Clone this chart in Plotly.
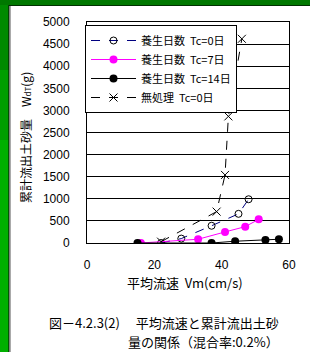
import plotly.graph_objects as go

# ---- data ----
tc0_x = [22, 28, 37, 45, 48]
tc0_y = [0, 100, 390, 660, 990]
tc7_x = [16, 33, 41, 47, 51]
tc7_y = [0, 85, 250, 370, 535]
tc14_x = [15, 37, 44, 53, 57]
tc14_y = [0, 0, 40, 70, 85]
raw_x = [22, 38.5, 41, 42, 46]
raw_y = [30, 710, 1540, 2865, 4620]

names = ["養生日数  Tc=0日", "養生日数  Tc=7日", "養生日数  Tc=14日", "無処理  Tc=0日"]
x_ticks = [0, 20, 40, 60]

W, H = 310, 352
L, R, T, B = 87, 21, 22, 109
PW, PH = W - L - R, H - T - B

def px(x):
    return (x - L) / PW

def py(y):
    return (H - B - y) / PH

FONT = "Liberation Sans, Noto Sans CJK JP"
JP = "Noto Sans CJK JP, Liberation Sans"

fig = go.Figure()
fig.add_trace(go.Scatter(x=tc0_x, y=tc0_y, name=names[0], mode="lines+markers",
                         line=dict(color="#000080", width=1, dash="dash"),
                         marker=dict(symbol="circle-open", size=7, color="black", line=dict(width=1, color="black"))))
fig.add_trace(go.Scatter(x=tc7_x, y=tc7_y, name=names[1], mode="lines+markers",
                         line=dict(color="#ff00ff", width=1),
                         marker=dict(symbol="circle", size=8, color="#ff00ff")))
fig.add_trace(go.Scatter(x=tc14_x, y=tc14_y, name=names[2], mode="lines+markers",
                         line=dict(color="black", width=1),
                         marker=dict(symbol="circle", size=8, color="black")))
fig.add_trace(go.Scatter(x=raw_x, y=raw_y, name=names[3], mode="lines+markers",
                         line=dict(color="black", width=1, dash="dash"),
                         marker=dict(symbol="x-thin-open", size=8, color="black", line=dict(width=1, color="black"))))

shapes = [
    # green frame strips
    dict(type="rect", xref="paper", yref="paper", x0=px(0), x1=px(W), y0=py(0), y1=py(5),
         fillcolor="#007800", line=dict(width=0), layer="below"),
    dict(type="rect", xref="paper", yref="paper", x0=px(0), x1=px(9), y0=py(5), y1=py(70),
         fillcolor="#008a00", line=dict(width=0), layer="below"),
    dict(type="rect", xref="paper", yref="paper", x0=px(0), x1=px(9), y0=py(70), y1=py(140),
         fillcolor="#009e00", line=dict(width=0), layer="below"),
    dict(type="rect", xref="paper", yref="paper", x0=px(0), x1=px(9), y0=py(140), y1=py(H),
         fillcolor="#00b000", line=dict(width=0), layer="below"),
    dict(type="line", xref="paper", yref="paper", x0=px(9), x1=px(9), y0=py(5), y1=py(H),
         line=dict(color="black", width=1), layer="below"),
    dict(type="line", xref="paper", yref="paper", x0=px(10.5), x1=px(10.5), y0=py(5), y1=py(H),
         line=dict(color="#aaaaaa", width=1), layer="below"),
    dict(type="line", xref="paper", yref="paper", x0=px(9), x1=px(W), y0=py(5.5), y1=py(5.5),
         line=dict(color="#003000", width=1), layer="below"),
]

annotations = [
    dict(text="累計流出土砂量　W<span style='font-size:8px'>dT</span>(g)", x=px(25), y=py(138),
         xref="paper", yref="paper",
         textangle=-90, showarrow=False, font=dict(family=JP, size=12, color="black"),
         xanchor="center", yanchor="middle"),
    dict(text="平均流速  Vm(cm/s)", x=px(185), y=py(282), xref="paper", yref="paper",
         showarrow=False, font=dict(family=JP, size=13, color="black"),
         xanchor="center", yanchor="middle"),
    dict(text="図－4.2.3(2)　 平均流速と累計流出土砂", x=px(281), y=py(322), xref="paper", yref="paper",
         showarrow=False, font=dict(family=JP, size=13, color="black"),
         xanchor="right", yanchor="middle"),
    dict(text="量の関係（混合率:0.2%）", x=px(281), y=py(341), xref="paper", yref="paper",
         showarrow=False, font=dict(family=JP, size=13, color="black"),
         xanchor="right", yanchor="middle"),
]

fig.update_layout(
    width=W, height=H,
    margin=dict(l=L, r=R, t=T, b=B, pad=0),
    paper_bgcolor="white", plot_bgcolor="white",
    font=dict(family=FONT, size=12, color="black"),
    showlegend=True,
    legend=dict(x=px(85), y=py(25), xanchor="left", yanchor="top",
                bgcolor="white", bordercolor="black", borderwidth=1,
                font=dict(family=JP, size=11, color="black"),
                itemwidth=45, tracegroupgap=0),
    shapes=shapes,
    annotations=annotations,
    xaxis=dict(range=[0, 60], tickvals=x_ticks, showgrid=False, zeroline=False,
               showline=True, linecolor="black", linewidth=1, mirror=True,
               ticks="", ticklabelstandoff=11, tickfont=dict(family=FONT, size=12)),
    yaxis=dict(range=[0, 5000], dtick=500, showgrid=True, gridcolor="black", gridwidth=1,
               zeroline=False, showline=True, linecolor="black", linewidth=1, mirror=True,
               ticks="", ticklabelstandoff=14, tickfont=dict(family=FONT, size=12)),
)

fig.write_html("out.html", config={"displayModeBar": False},
               post_script="document.body.style.margin='0';")
